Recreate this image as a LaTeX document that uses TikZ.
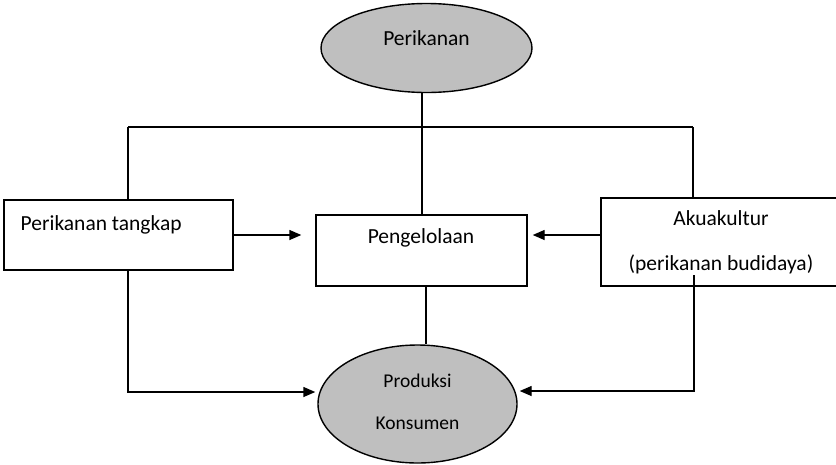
\documentclass[tikz,border=0pt]{standalone}
\usepackage{fontspec}
\setmainfont{Carlito}
\usetikzlibrary{shapes.geometric,arrows.meta}
\definecolor{shade}{HTML}{BFBFBF}
\begin{document}
\begin{tikzpicture}[x=1pt,y=-1pt,
  line width=1.4pt,
  oval/.style={ellipse,draw,fill=shade,inner sep=0pt},
  box/.style={rectangle,draw,fill=white,inner sep=0pt},
  lbl/.style={anchor=base,inner sep=0pt,font=\fontsize{21.5}{26}\selectfont},
  lblsmall/.style={anchor=base,inner sep=0pt,font=\fontsize{19.5}{24}\selectfont},
  arr/.style={-{Triangle[length=12pt,width=10pt]}}]
\clip (0,0) rectangle (836,464);

% shapes
\node[oval,minimum width=211pt,minimum height=89pt] (top) at (426.5,48) {};
\node[oval,minimum width=199pt,minimum height=118pt] (prod) at (417.5,404) {};
\node[box,minimum width=229pt,minimum height=70pt] (tangkap) at (118.5,235) {};
\node[box,minimum width=211pt,minimum height=71pt] (kelola) at (421.5,250.5) {};
\node[box,minimum width=250pt,minimum height=88pt] (akua) at (726,242) {};

% labels
\node[lbl] (tTop) at (426.5,45.5) {Perikanan};
\node[lbl,anchor=base west] (tTangkap) at (20,230) {Perikanan tangkap};
\node[lbl] (tKelola) at (421,243) {Pengelolaan};
\node[lbl] (tAkua1) at (721,225) {Akuakultur};
\node[lbl] (tAkua2) at (721,270) {(perikanan budidaya)};
\node[lblsmall] (tProd1) at (417.5,387) {Produksi};
\node[lblsmall] (tProd2) at (417.5,429) {Konsumen};

% distribution bar from the top node
\coordinate (hub) at (422,127);
\coordinate (lt) at (128,127);
\coordinate (rt) at (693,127);
\draw (lt) -- (rt);
\draw (hub |- top.south) -- (hub);
\draw (hub) -- (hub |- kelola.north);
\draw (lt) -- (lt |- tangkap.north);
\draw (rt) -- (rt |- akua.north);

% side boxes into the management box
\coordinate (ya) at (0,235);
\draw[arr,shorten >=14pt] (tangkap.east |- ya) -- (kelola.west |- ya);
\draw[arr,shorten >=5pt] (akua.west |- ya) -- (kelola.east |- ya);

% management box to the production node
\coordinate (kb) at (426,286);
\draw (kb) -- (kb |- prod.north);

% side boxes down to the production node
\coordinate (lb) at (128,392);
\draw[arr,shorten >=2pt] (lt |- tangkap.south) -- (lb) -- (lb -| prod.west);
\coordinate (rs) at (694,275);
\coordinate (rb) at (694,391);
\draw[arr,shorten >=2pt] (rs) -- (rb) -- (rb -| prod.east);
\end{tikzpicture}
\end{document}
